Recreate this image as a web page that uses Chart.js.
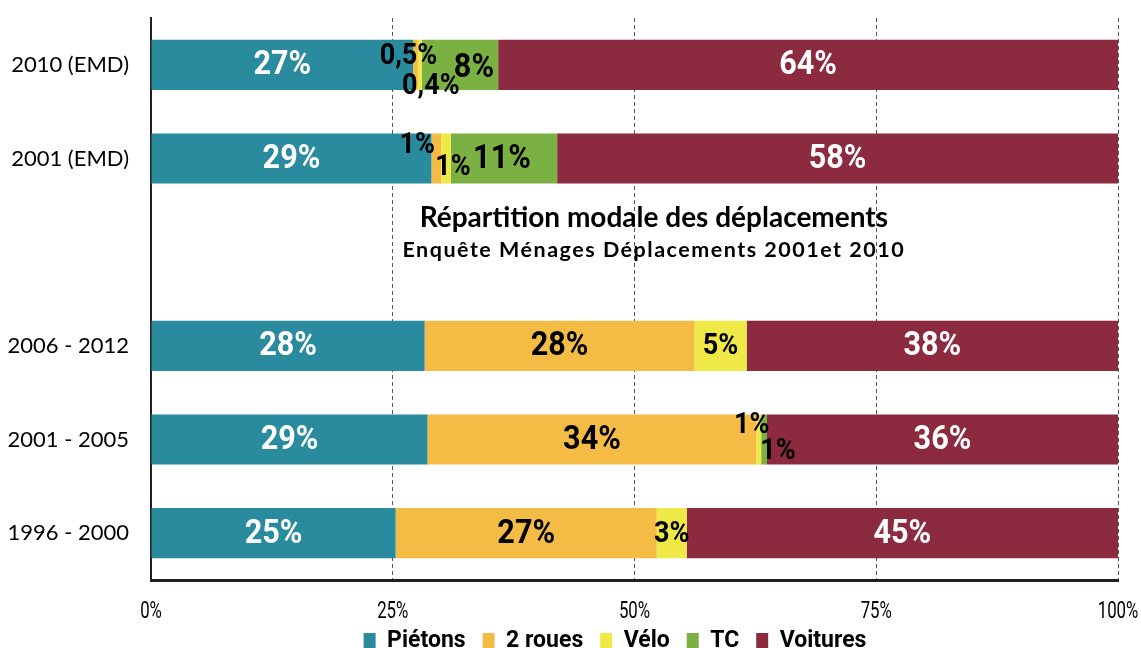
<!DOCTYPE html>
<html><head><meta charset="utf-8">
<script src="https://cdn.jsdelivr.net/npm/chart.js@4.4.0/dist/chart.umd.min.js"></script>
<style>html,body{margin:0;padding:0;background:#fff;overflow:hidden;}
#wrap{width:1141px;height:663px;position:relative;}
</style></head><body><div id="wrap"><canvas id="c"></canvas></div>
<script>
const categories = ["2010 (EMD)", "2001 (EMD)", "", "2006 - 2012", "2001 - 2005", "1996 - 2000"];
const seriesNames = ["Piétons", "2 roues", "Vélo", "TC", "Voitures"];
const pietons   = [27.1, 29.0, null, 28.3, 28.6, 25.3];
const deuxRoues = [0.5, 1.0, null, 27.9, 34.0, 27.0];
const velo      = [0.4, 1.0, null, 5.4, 0.5, 3.1];
const tc        = [7.9, 11.0, null, 0, 0.6, 0];
const voitures  = [64.1, 58.0, null, 38.4, 36.3, 44.6];
const pietonsLbl   = ["27%", "29%", "", "28%", "29%", "25%"];
const deuxRouesLbl = ["0,5%", "1%", "", "28%", "34%", "27%"];
const veloLbl      = ["0,4%", "1%", "", "5%", "1%", "3%"];
const tcLbl        = ["8%", "11%", "", "", "1%", ""];
const voituresLbl  = ["64%", "58%", "", "38%", "36%", "45%"];
const xTicks = [0, 25, 50, 75, 100];
const titleText = "Répartition modale des déplacements";
const subtitleText = "Enquête Ménages Déplacements 2001et 2010";

const colors = ["#2B8B9E", "#F5BC45", "#EEE947", "#7BB042", "#8C2A3F"];
const labelColors = ["#ffffff", "#000000", "#000000", "#000000", "#ffffff"];
// label nudges (px) for small segments: key "dataset-index"
const nudges = {"1-0":[-7,-9], "2-0":[11,21], "3-0":[14,3], "1-1":[-19,-14], "2-1":[7,8], "3-1":[-2,0], "2-4":[-7,-15], "3-4":[14,11]};

const BOLDFONT = 'Roboto, "Liberation Sans", sans-serif';

const segLabels = {
  id: 'segLabels',
  afterDatasetsDraw(chart) {
    const ctx = chart.ctx;
    chart.data.datasets.forEach((ds, di) => {
      const meta = chart.getDatasetMeta(di);
      meta.data.forEach((el, i) => {
        const txt = ds.segLabels[i];
        if (!txt) return;
        const p = el.getProps(['x', 'base', 'y'], true);
        const w = Math.abs(p.x - p.base);
        const n = nudges[di + '-' + i] || [0, 0];
        ctx.save();
        ctx.translate((p.x + p.base) / 2 + n[0], p.y + n[1] + 1);
        ctx.scale(0.9, 1);
        ctx.font = 'bold ' + (w < 60 ? 30 : 34) + 'px ' + BOLDFONT;
        ctx.fillStyle = ds.labelColor;
        ctx.textAlign = 'center';
        ctx.textBaseline = 'middle';
        ctx.fillText(txt, 0, 0);
        ctx.restore();
      });
    });
  }
};

// condensed x tick labels, positioned by the x scale
const xTickLabels = {
  id: 'xTickLabels',
  afterDraw(chart) {
    const ctx = chart.ctx;
    const sx = chart.scales.x;
    const y = chart.chartArea.bottom + 32;
    ctx.save();
    ctx.fillStyle = '#000';
    ctx.textAlign = 'center';
    ctx.textBaseline = 'middle';
    ctx.font = '24px Roboto, sans-serif';
    xTicks.forEach(v => {
      ctx.save();
      ctx.translate(sx.getPixelForValue(v), y);
      ctx.scale(0.7, 1);
      ctx.fillText(v + '%', 0, 0);
      ctx.restore();
    });
    ctx.restore();
  }
};

// shift the legend box so it is centred like the original
const legendShift = {
  id: 'legendShift',
  afterLayout(chart) {
    const L = chart.legend;
    if (L) { L.left += 56; L.right += 56; }
  }
};

const titlePlugin = {
  id: 'midTitle',
  afterDatasetsDraw(chart) {
    const ctx = chart.ctx;
    const y = chart.scales.y.getPixelForValue(2);
    const x = chart.scales.x.getPixelForValue(52);
    ctx.save();
    ctx.fillStyle = '#000';
    ctx.textAlign = 'center';
    ctx.textBaseline = 'middle';
    ctx.font = 'bold 28px Lato, "Open Sans", sans-serif';
    ctx.fillText(titleText, x, y - 34);
    ctx.font = 'bold 21.5px Lato, "Open Sans", sans-serif';
    try { ctx.letterSpacing = '1.5px'; } catch (e) {}
    ctx.fillText(subtitleText, x, y - 2);
    ctx.restore();
  }
};

const lists = [pietons, deuxRoues, velo, tc, voitures];
const lbls = [pietonsLbl, deuxRouesLbl, veloLbl, tcLbl, voituresLbl];
const datasets = seriesNames.map((name, k) => ({
  label: name,
  data: lists[k],
  backgroundColor: colors[k],
  borderWidth: 0,
  segLabels: lbls[k],
  labelColor: labelColors[k],
  categoryPercentage: 1,
  barPercentage: 0.535
}));

new Chart(document.getElementById('c'), {
  type: 'bar',
  data: { labels: categories, datasets },
  plugins: [segLabels, titlePlugin, xTickLabels, legendShift],
  options: {
    indexAxis: 'y',
    responsive: true,
    maintainAspectRatio: false,
    animation: false,
    layout: { padding: { top: 18, right: 23, left: 0, bottom: 0 } },
    plugins: {
      tooltip: { enabled: false },
      legend: {
        position: 'bottom',
        labels: {
          color: '#000',
          boxWidth: 12,
          boxHeight: 17,
          padding: 17,
          font: { family: BOLDFONT, size: 23, weight: 'bold' }
        }
      }
    },
    scales: {
      x: {
        stacked: true,
        min: 0, max: 100,
        afterBuildTicks(scale) { scale.ticks = xTicks.map(v => ({ value: v })); },
        afterFit(scale) { scale.height = 33; scale.paddingLeft = 0; scale.paddingRight = 0; },
        ticks: {
          padding: 17,
          color: 'rgba(0,0,0,0)',
          maxRotation: 0,
          font: { family: 'Roboto, sans-serif', size: 12 },
          callback: v => v + '%'
        },
        grid: {
          drawTicks: false,
          color: ctx => ctx.tick && ctx.tick.value === 0 ? 'rgba(0,0,0,0)' : '#555',
          lineWidth: 1
        },
        border: { display: true, color: '#231F20', width: 3, dash: [4, 3] }
      },
      y: {
        stacked: true,
        afterFit(scale) { scale.width = 151; scale.paddingTop = 0; scale.paddingBottom = 0; },
        ticks: {
          padding: 22,
          color: '#000',
          font: { family: 'Lato, "Open Sans", sans-serif', size: 22 }
        },
        grid: { display: false, drawTicks: false },
        border: { display: true, color: '#231F20', width: 2 }
      }
    }
  }
});
</script></body></html>
